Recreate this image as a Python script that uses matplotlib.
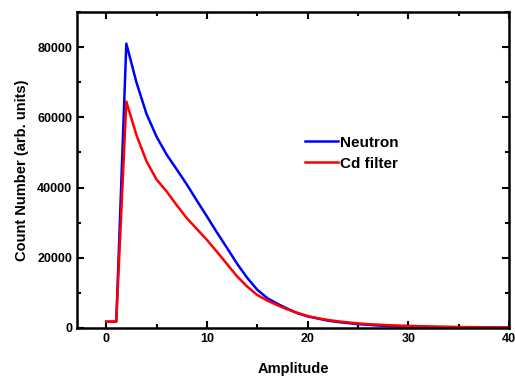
import numpy as np
import matplotlib
matplotlib.use("Agg")
import matplotlib.pyplot as plt
from matplotlib.ticker import MultipleLocator

plt.rcParams['font.family'] = ['Liberation Sans', 'DejaVu Sans']
plt.rcParams['font.weight'] = 'bold'

amplitude = list(range(0, 41))
neutron = [1800, 1800, 81000, 70000, 61000, 54500, 49400, 45200, 40900, 36300,
           31800, 27200, 22800, 18300, 14300, 10900, 8500, 6900, 5500, 4200,
           3300, 2700, 2100, 1700, 1400, 1100, 900, 700, 550, 450,
           380, 320, 280, 240, 210, 180, 160, 140, 120, 110, 100]
cd_filter = [1800, 1800, 64500, 55000, 47500, 42300, 38900, 35000, 31300, 28200,
             25100, 21700, 18200, 14700, 11800, 9400, 7800, 6500, 5300, 4300,
             3400, 2800, 2300, 1900, 1600, 1300, 1100, 950, 800, 700,
             600, 520, 450, 390, 340, 290, 250, 220, 190, 170, 150]

fig = plt.figure(figsize=(5.15, 3.76), dpi=100)
ax = fig.add_axes([0.1495, 0.1277, 0.8388, 0.8403])

ax.plot(amplitude, neutron, color='#0000ff', lw=1.8, label='Neutron')
ax.plot(amplitude, cd_filter, color='#ff0000', lw=1.8, label='Cd filter')

ax.set_xlim(-2.9, 40)
ax.set_ylim(0, 90000)
ax.xaxis.set_major_locator(MultipleLocator(10))
ax.xaxis.set_minor_locator(MultipleLocator(5))
ax.yaxis.set_major_locator(MultipleLocator(20000))
ax.yaxis.set_minor_locator(MultipleLocator(10000))
ax.tick_params(which='both', direction='in', top=True, right=True, width=1.5,
               labelsize=9)
ax.tick_params(which='major', length=5)
ax.tick_params(which='minor', length=3)
for s in ax.spines.values():
    s.set_linewidth(1.8)

ax.set_xlabel('Amplitude', fontsize=10.5, fontweight='bold', labelpad=12)
ax.set_ylabel('Count Number (arb. units)', fontsize=10.5, fontweight='bold',
              labelpad=6)

ax.legend(loc='upper left', bbox_to_anchor=(0.495, 0.652), frameon=False,
          fontsize=11, handlelength=2.2, handletextpad=0.15, labelspacing=0.45)

fig.savefig('out.png', dpi=100)
